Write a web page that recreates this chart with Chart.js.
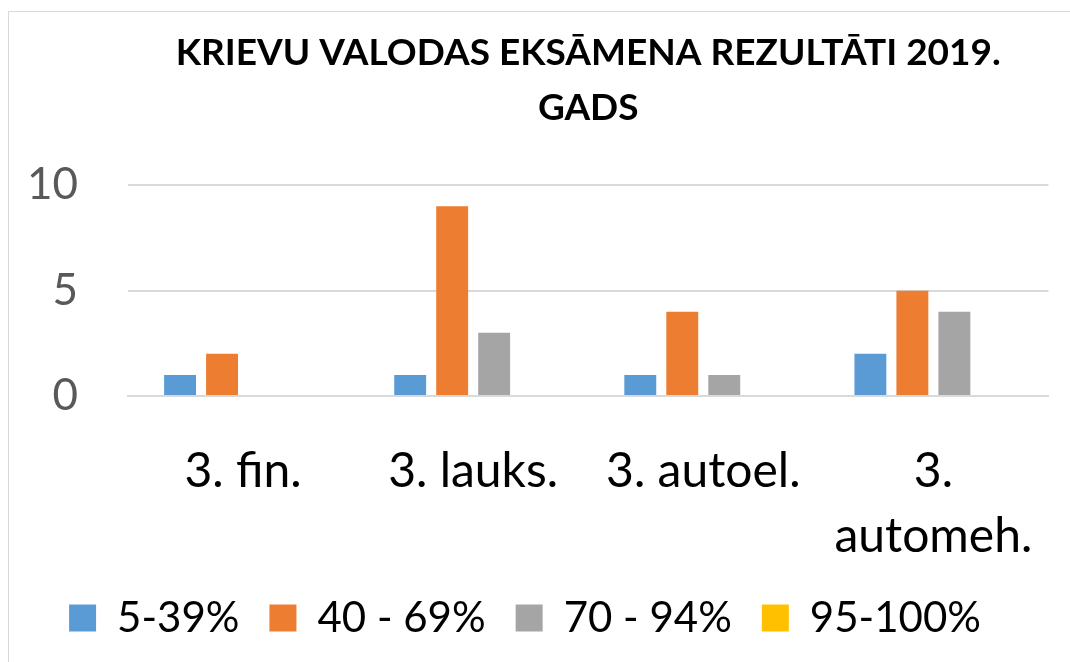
<!DOCTYPE html>
<html>
<head>
<meta charset="utf-8">
<script src="https://cdn.jsdelivr.net/npm/chart.js"></script>
<style>
  html, body { margin: 0; padding: 0; background: #fff; overflow: hidden; }
  #wrap { position: relative; width: 1070px; height: 662px; }
  #frame { position: absolute; left: 8px; top: 11px; width: 1100px; height: 700px;
           border: 1px solid #d9d9d9; box-sizing: border-box; pointer-events: none; }
</style>
</head>
<body>
<div id="wrap">
  <canvas id="myChart" width="1070" height="662"></canvas>
  <div id="frame"></div>
</div>
<script>
// categories along the x-axis
var groups = ["3. fin.", "3. lauks.", "3. autoel.", ["3.", "automeh."]];
// number of students per result band
var band1 = [1, 1, 1, 2];   // 5-39%
var band2 = [2, 9, 4, 5];   // 40 - 69%
var band3 = [0, 3, 1, 4];   // 70 - 94%
var band4 = [0, 0, 0, 0];   // 95-100%
var yTicks = [0, 5, 10];

var font = "Lato, 'Open Sans', sans-serif";

var ctx = document.getElementById("myChart");
var myChart = new Chart(ctx, {
  type: 'bar',
  data: {
    labels: groups,
    datasets: [
      { label: "5-39%", data: band1, backgroundColor: "#5b9bd5" },
      { label: "40 - 69%", data: band2, backgroundColor: "#ed7d31" },
      { label: "70 - 94%", data: band3, backgroundColor: "#a5a5a5" },
      { label: "95-100%", data: band4, backgroundColor: "#ffc000" }
    ]
  },
  options: {
    responsive: false,
    animation: false,
    layout: { padding: { left: 0, right: 20, top: 0, bottom: 13 } },
    datasets: {
      bar: { categoryPercentage: 0.73, barPercentage: 0.76 }
    },
    plugins: {
      title: {
        display: true,
        fullSize: false,
        text: ["KRIEVU VALODAS EKSĀMENA REZULTĀTI 2019.", "GADS"],
        color: "#000",
        font: { family: font, size: 37, weight: "bold", lineHeight: 1.49 },
        padding: { top: 25, bottom: 50 }
      },
      legend: {
        position: 'bottom',
        labels: {
          color: "#000",
          font: { family: font, size: 42 },
          boxWidth: 27,
          boxHeight: 27,
          padding: 30
        }
      },
      tooltip: { enabled: false }
    },
    scales: {
      x: {
        grid: { display: false },
        border: { display: true, color: "#d9d9d9", width: 2 },
        ticks: {
          color: "#000",
          font: { family: font, size: 48, lineHeight: 1.35 },
          padding: 35,
          maxRotation: 0,
          autoSkip: false
        },
        afterFit: function (scale) { scale.height = 171; }
      },
      y: {
        min: 0,
        max: 10,
        afterBuildTicks: function (scale) {
          scale.ticks = yTicks.map(function (v) { return { value: v }; });
        },
        grid: { color: "#d9d9d9", lineWidth: 2, drawTicks: false },
        border: { display: false },
        ticks: {
          color: "#595959",
          font: { family: font, size: 44 },
          padding: 50
        },
        afterFit: function (scale) { scale.width = 128; }
      }
    }
  }
});
</script>
</body>
</html>
